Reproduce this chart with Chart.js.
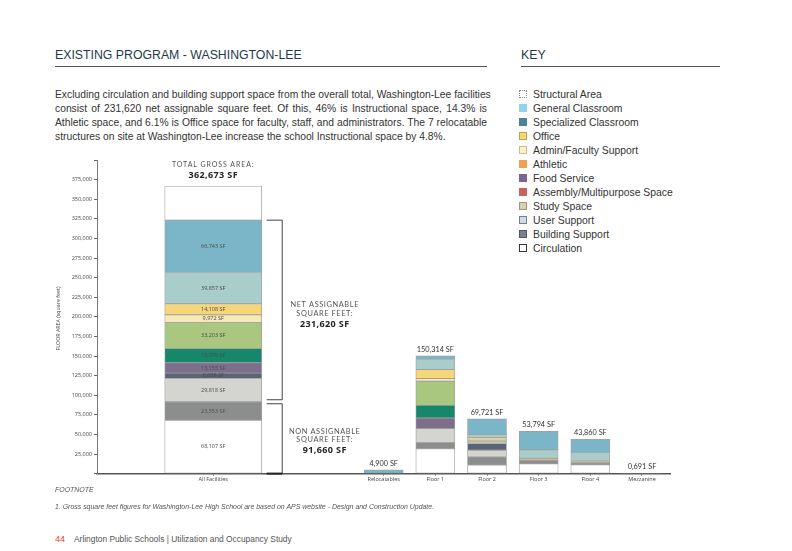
<!DOCTYPE html>
<html><head><meta charset="utf-8">
<script src="https://cdn.jsdelivr.net/npm/chart.js@4/dist/chart.umd.min.js"></script>
<style>
html,body{margin:0;padding:0;background:#fff;}
body{width:792px;height:551px;position:relative;overflow:hidden;font-family:"Liberation Sans",Arial,sans-serif;}
.h{position:absolute;top:48px;font-size:12.3px;color:#1e3a48;white-space:nowrap;}
.rule{position:absolute;top:66px;height:1px;background:#555;}
#para{position:absolute;left:55px;top:87.5px;width:432px;font-size:10.3px;line-height:14.3px;color:#333;}
#para div{text-align:justify;text-align-last:justify;white-space:nowrap;}
#para div.last{text-align-last:left;}
#key{position:absolute;left:519px;top:87px;font-size:10.4px;color:#333;}
.ki{height:14px;display:flex;align-items:center;white-space:nowrap;}
.sw{width:8px;height:8px;box-sizing:border-box;margin-right:6px;border:1px solid transparent;flex:none;}
#chartWrap{position:absolute;left:40px;top:150px;width:640px;height:340px;}
.fn{position:absolute;left:55px;font-style:italic;color:#555;font-size:6.95px;white-space:nowrap;}
.foot{position:absolute;top:534px;font-size:8.4px;color:#555;white-space:nowrap;}
</style></head><body>
<div class="h" style="left:55px">EXISTING PROGRAM - WASHINGTON-LEE</div>
<div class="rule" style="left:55px;width:432px"></div>
<div class="h" style="left:521px">KEY</div>
<div class="rule" style="left:521px;width:199px"></div>
<div id="para">
<div>Excluding circulation and building support space from the overall total, Washington-Lee facilities</div>
<div>consist of 231,620 net assignable square feet. Of this, 46% is Instructional space, 14.3% is</div>
<div>Athletic space, and 6.1% is Office space for faculty, staff, and administrators. The 7 relocatable</div>
<div class="last">structures on site at Washington-Lee increase the school Instructional space by 4.8%.</div>
</div>
<div id="key"></div>
<div id="chartWrap"><canvas id="c"></canvas></div>
<div class="fn" style="top:486px">FOOTNOTE</div>
<div class="fn" style="top:502.5px">1. Gross square feet figures for Washington-Lee High School are based on APS website - Design and Construction Update.</div>
<div class="foot" style="left:55px;color:#e8413e;font-size:9px;top:533.5px">44</div>
<div class="foot" style="left:74px">Arlington Public Schools | Utilization and Occupancy Study</div>
<script>
// ---------------- DATA ----------------
const categories = ['All Facilities','Relocatables','Floor 1','Floor 2','Floor 3','Floor 4','Mezzanine'];
const circulation     = [68107,    0, 31800, 10900, 12400, 11100,   0];
const buildingSupport = [23553,    0,  7700, 10300,  4200,  2600,   0];
const userSupport     = [29818,    0, 17900,  8500,     0,     0, 691];
const slateSupport    = [ 6688,    0,     0,  8700,     0,     0,   0];
const foodService     = [13155,    0, 13500,     0,     0,     0,   0];
const darkGreenSpace  = [18076,    0, 16200,     0,     0,     0,   0];
const tanSpace        = [    0,    0,     0,  2000,  3000,  3000,   0];
const lightGreenSpace = [33203,    0, 30700,  1800,     0,     0,   0];
const adminSupport    = [ 9972,    0,  3400,  1500,     0,     0,   0];
const office          = [14108,    0, 11500,  2200,     0,     0,   0];
const lightTealSpace  = [39857,    0, 12800,  3800, 10700, 10600,   0];
const steelBlueSpace  = [66743, 4900,  4814, 20021, 23494, 16560,   0];
const structuralArea  = [43400,    0,     0,     0,     0,     0,   0];
const totalLabels = ['362,673 SF','4,900 SF','150,314 SF','69,721 SF','53,794 SF','43,860 SF','0,691 SF'];
const netAssignable = 231620;
const nonAssignable = 91660;
const netLabel = '231,620 SF';
const nonLabel = '91,660 SF';
const yMax = 400000, yStep = 25000;

const keyNames = ['Structural Area','General Classroom','Specialized Classroom','Office','Admin/Faculty Support','Athletic','Food Service','Assembly/Multipurpose Space','Study Space','User Support','Building Support','Circulation'];

// ---------------- STYLE / LAYOUT ----------------
const keyStyles = [
 ['#fff','#888','dotted'],['#93d3ea','#93d3ea','solid'],['#4d8197','#4d8197','solid'],['#f4d96c','#b9a45a','solid'],
 ['#fbf0c8','#cbbb8a','solid'],['#f3a04e','#f3a04e','solid'],['#7c6690','#7c6690','solid'],['#c9625c','#c9625c','solid'],
 ['#ddd0b3','#a39679','solid'],['#d6d9e0','#6f7f9c','solid'],['#7b8189','#4f5a68','solid'],['#fff','#333','solid']];
const keyEl = document.getElementById('key');
keyNames.forEach((n,i)=>{
  const d=document.createElement('div');d.className='ki';
  const s=document.createElement('span');s.className='sw';
  s.style.background=keyStyles[i][0];s.style.borderColor=keyStyles[i][1];s.style.borderStyle=keyStyles[i][2];
  d.appendChild(s);d.appendChild(document.createTextNode(n));keyEl.appendChild(d);
});

const series = [
 [circulation,'#ffffff'],[buildingSupport,'#8c8e8e'],[userSupport,'#d4d4d0'],[slateSupport,'#5b6477'],
 [foodService,'#7d6f8c'],[darkGreenSpace,'#17876b'],[tanSpace,'#c9b898'],[lightGreenSpace,'#a9c77e'],
 [adminSupport,'#f7e8b5'],[office,'#f5d77a'],[lightTealSpace,'#a9cdcb'],[steelBlueSpace,'#7ab6c7'],
 [structuralArea,'#ffffff']];

const slot = [22,55,65,75,85,95,105]; const nSlots = 111;
const labels = Array.from({length:nSlots},()=> '');
slot.forEach((s,i)=>labels[s]=categories[i]);

const datasets=[];
series.forEach(([vals,color],si)=>{
  const allData = Array(nSlots).fill(null), floorData = Array(nSlots).fill(null);
  vals.forEach((v,i)=>{ if(!v) return; if(i===0) allData[slot[i]]=v; else floorData[slot[i]]=v; });
  const common={backgroundColor:color,borderColor:'#a0a0a0',borderWidth:0.8,borderSkipped:false};
  datasets.push(Object.assign({data:allData,barThickness:97,_all:true,_struct:si===series.length-1},common));
  datasets.push(Object.assign({data:floorData,barThickness:39},common));
});

function stackTotal(i){return series.reduce((a,[v])=>a+(v[i]||0),0);}

const fmt = v => v.toLocaleString('en-US');
const annot = {
 id:'annot',
 afterDatasetsDraw(chart){
  const ctx=chart.ctx, y=chart.scales.y, x=chart.scales.x;
  ctx.save();
  ctx.font='5.5px "Open Sans"'; ctx.textAlign='center'; ctx.textBaseline='middle';
  chart.data.datasets.forEach((ds,di)=>{
    if(!ds._all||ds._struct) return;
    const el=chart.getDatasetMeta(di).data[slot[0]];
    const v=ds.data[slot[0]]; if(!v||!el) return;
    ctx.fillStyle='#4a4a4a';
    ctx.fillText(fmt(v)+' SF', el.x, (el.y+el.base)/2);
  });
  categories.forEach((c,i)=>{
    const cx=x.getPixelForValue(slot[i]);
    const top=y.getPixelForValue(stackTotal(i));
    if(i===0){
      ctx.fillStyle='#555'; ctx.font='7px Lato'; ctx.letterSpacing='0.9px';
      ctx.fillText('TOTAL GROSS AREA:', cx, top-21);
      ctx.fillStyle='#222'; ctx.font='bold 9px "Open Sans"'; ctx.letterSpacing='0.4px';
      ctx.fillText(totalLabels[i], cx, top-10.3);
      ctx.letterSpacing='0px';
    } else {
      ctx.fillStyle='#333'; ctx.font='7.3px Lato';
      ctx.fillText(totalLabels[i], cx, top-6.5);
    }
  });
  const barR = x.getPixelForValue(slot[0]) + 97/2;
  const bx0 = barR+5, bx1 = barR+20.5;
  const y0=y.getPixelForValue(0), yMid=y.getPixelForValue(nonAssignable), yTop=y.getPixelForValue(nonAssignable+netAssignable);
  ctx.strokeStyle='#444'; ctx.lineWidth=1;
  ctx.beginPath();
  ctx.moveTo(bx0,yTop); ctx.lineTo(bx1,yTop); ctx.lineTo(bx1,yMid-2); ctx.lineTo(bx0,yMid-2);
  ctx.moveTo(bx0,yMid+2); ctx.lineTo(bx1,yMid+2); ctx.lineTo(bx1,y0);
  ctx.stroke();
  ctx.lineWidth=2; ctx.strokeStyle='#222'; ctx.beginPath(); ctx.moveTo(bx0,y0); ctx.lineTo(bx1,y0); ctx.stroke();
  const tx = bx1+42.5;
  const midNet=(yTop+yMid)/2, midNon=(yMid+y0)/2;
  ctx.fillStyle='#555'; ctx.font='7.4px Lato'; ctx.letterSpacing='0.6px';
  ctx.fillText('NET ASSIGNABLE', tx, midNet-6.5);
  ctx.fillText('SQUARE FEET:', tx, midNet+3);
  ctx.fillText('NON ASSIGNABLE', tx, midNon-6.5);
  ctx.fillText('SQUARE FEET:', tx, midNon+2);
  ctx.fillStyle='#222'; ctx.font='bold 9px "Open Sans"'; ctx.letterSpacing='0.4px';
  ctx.fillText(netLabel, tx, midNet+13.5);
  ctx.fillText(nonLabel, tx, midNon+12.5);
  ctx.letterSpacing='0px';
  ctx.translate(18,168.5); ctx.rotate(-Math.PI/2);
  ctx.fillStyle='#444'; ctx.font='5.3px "Open Sans"';
  ctx.fillText('FLOOR AREA (square feet)',0,0);
  ctx.restore();
 }
};

new Chart(document.getElementById('c'),{
 type:'bar',
 data:{labels,datasets},
 options:{
  responsive:true, maintainAspectRatio:false, animation:false,
  layout:{padding:{top:10,right:9.6,left:0,bottom:0}},
  plugins:{legend:{display:false},tooltip:{enabled:false}},
  scales:{
   x:{stacked:true,
      grid:{display:true,drawOnChartArea:false,drawTicks:true,tickLength:2,offset:false,
            color:c=>labels[c.index]?'#555':'rgba(0,0,0,0)'},
      border:{display:true,color:'#555',width:1.5},
      ticks:{autoSkip:false,maxRotation:0,minRotation:0,padding:1,color:'#444',font:{family:'Open Sans',size:5.5}},
      afterFit:s=>{s.height=16.4;}},
   y:{stacked:true,min:0,max:yMax,
      grid:{display:true,drawOnChartArea:false,drawTicks:true,tickLength:3,color:'#666'},
      border:{display:true,color:'#777',width:1},
      ticks:{stepSize:yStep,padding:2,color:'#444',font:{family:'Open Sans',size:5.5},
             callback:v=>(v===0||v===yMax)?'':fmt(v)},
      afterFit:s=>{s.width=57;}}
  }
 },
 plugins:[annot]
});
</script>
</body></html>
